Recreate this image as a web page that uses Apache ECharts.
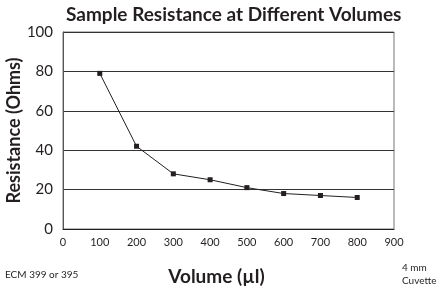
<!DOCTYPE html>
<html>
<head>
<meta charset="utf-8">
<script src="https://cdn.jsdelivr.net/npm/echarts@6/dist/echarts.min.js"></script>
<style>
  html, body { margin: 0; padding: 0; background: #fff; }
  #main { width: 440px; height: 290px; }
</style>
</head>
<body>
<div id="main"></div>
<script>
// 数据
var volumes = [100, 200, 300, 400, 500, 600, 700, 800];
var resistance = [79, 42, 28, 25, 21, 18, 17, 16];

var myChart = echarts.init(document.getElementById('main'));
var font = 'Lato, "Open Sans", sans-serif';

var option = {
    animation: false,
    title: {
        text: 'Sample Resistance at Different Volumes',
        left: 61,
        top: 0,
        textStyle: { fontFamily: font, fontWeight: 'bold', fontSize: 19, color: '#231f20' }
    },
    graphic: [
        { type: 'text', left: 5, top: 270, style: { text: 'ECM 399 or 395', font: '10px ' + font, fill: '#231f20' } },
        { type: 'text', left: 402, top: 261, style: { text: '4 mm\nCuvette', font: '10px ' + font, fill: '#231f20', lineHeight: 13 } }
    ],
    grid: { left: 63, right: 46, top: 32, bottom: 61, show: true, borderColor: '#777', borderWidth: 1, outerBoundsMode: 'none' },
    xAxis: {
        type: 'value',
        min: 0, max: 900, interval: 100,
        name: 'Volume (µl)',
        nameLocation: 'middle',
        nameGap: 38,
        nameMoveOverlap: false,
        nameTextStyle: { fontFamily: font, fontWeight: 'bold', fontSize: 19, color: '#231f20', padding: [0, 24, 0, 0] },
        axisLine: { show: true, lineStyle: { color: '#231f20' } },
        axisTick: { show: false },
        axisLabel: { fontFamily: font, fontSize: 11, color: '#231f20', margin: 8 },
        splitLine: { show: false }
    },
    yAxis: {
        type: 'value',
        min: 0, max: 100, interval: 20,
        name: 'Resistance (Ohms)',
        nameLocation: 'middle',
        nameGap: 40,
        nameMoveOverlap: false,
        nameTextStyle: { fontFamily: font, fontWeight: 'bold', fontSize: 18, color: '#231f20' },
        axisLine: { show: true, lineStyle: { color: '#555' } },
        axisTick: { show: false },
        axisLabel: { fontFamily: font, fontSize: 15, color: '#231f20', margin: 10 },
        splitLine: { show: true, lineStyle: { color: '#333', width: 1 } }
    },
    series: [{
        type: 'line',
        data: volumes.map(function (v, i) { return [v, resistance[i]]; }),
        symbol: 'rect',
        symbolSize: 5,
        itemStyle: { color: '#231f20' },
        lineStyle: { color: '#231f20', width: 1 }
    }]
};

myChart.setOption(option);
</script>
</body>
</html>
